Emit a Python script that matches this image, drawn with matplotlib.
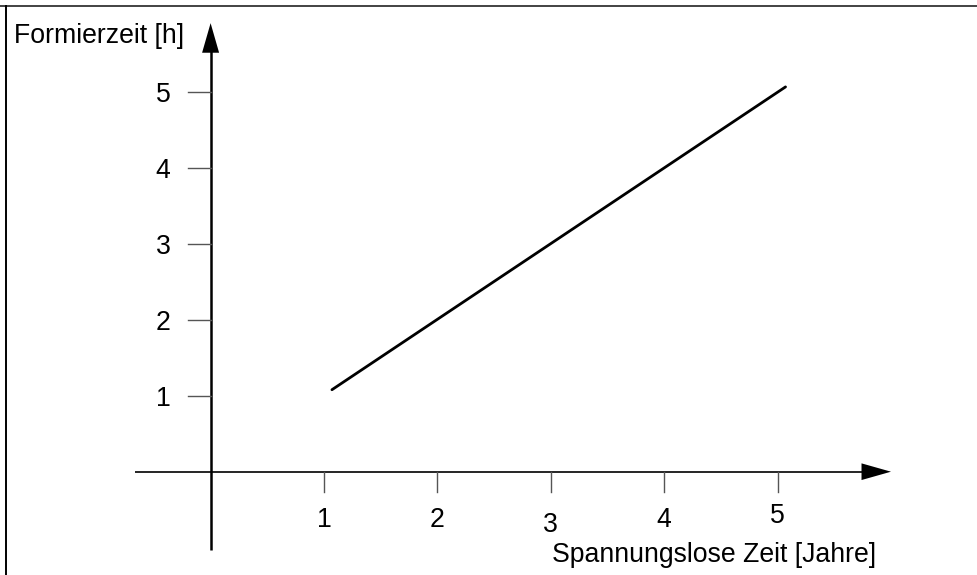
import numpy as np
import matplotlib
matplotlib.use("Agg")
import matplotlib.pyplot as plt
from matplotlib.patches import Polygon

plt.rcParams['font.family'] = ['Liberation Sans', 'DejaVu Sans']

# data
x_ticks = [1, 2, 3, 4, 5]
y_ticks = [1, 2, 3, 4, 5]
line_x = [1.07, 5.07]
line_y = [1.08, 5.07]
x_label = "Spannungslose Zeit [Jahre]"
y_label = "Formierzeit [h]"

# small vertical offsets of the x tick labels (as in the original drawing)
x_label_dy = [0, 0, -0.06, 0, 0.05]

fig = plt.figure(figsize=(9.77, 5.75), dpi=100)
ax = fig.add_axes([0, 0, 1, 1])
# pixel mapping: origin at (210.6, 471.7), 113.4 px per x unit, 75.9 px per y unit
ax.set_xlim(-210.6 / 113.4, (977 - 210.6) / 113.4)
ax.set_ylim((471.7 - 575) / 75.9, 471.7 / 75.9)
ax.axis('off')

fs = 19.2

# axes lines
ax.plot([0, 0], [-1.03, 5.6], color='black', lw=1.8, solid_capstyle='butt')
ax.plot([-0.67, 5.85], [0, 0], color='black', lw=1.2, solid_capstyle='butt')

# arrow heads
ax.add_patch(Polygon([[0, 5.91], [-0.075, 5.52], [0.075, 5.52]],
                     closed=True, color='black', lw=0))
ax.add_patch(Polygon([[6.0, 0], [5.74, 0.11], [5.74, -0.11]],
                     closed=True, color='black', lw=0))

# ticks
for t, dy in zip(x_ticks, x_label_dy):
    ax.plot([t, t], [0, -0.27], color='#555555', lw=1.0)
    ax.text(t, -0.64 + dy, str(t), ha='center', va='center', fontsize=fs)
for t in y_ticks:
    ax.plot([-0.2, 0], [t, t], color='#555555', lw=1.0)
    ax.text(-0.42, t - 0.04, str(t), ha='center', va='center', fontsize=fs)

# curve
ax.plot(line_x, line_y, color='black', lw=2.0, solid_capstyle='round')

# axis labels
ax.text((551.7 - 210.6) / 113.4, (471.7 - 562) / 75.9, x_label,
        ha='left', va='baseline', fontsize=fs)
ax.text((14 - 210.6) / 113.4, (471.7 - 43) / 75.9, y_label,
        ha='left', va='baseline', fontsize=fs)

# frame: top and left border
fig.add_artist(plt.Line2D([0, 1], [1 - 5.5 / 575, 1 - 5.5 / 575],
                          transform=fig.transFigure, color='#222222', lw=1.2))
fig.add_artist(plt.Line2D([6 / 977, 6 / 977], [0, 1 - 5.5 / 575],
                          transform=fig.transFigure, color='black', lw=1.4))

fig.savefig("out.png", dpi=100)
